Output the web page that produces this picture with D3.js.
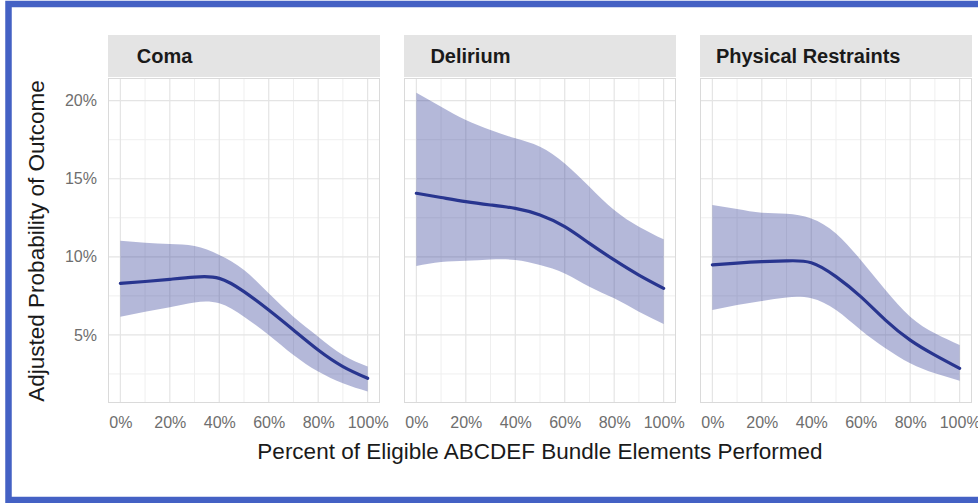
<!DOCTYPE html>
<html>
<head>
<meta charset="utf-8">
<script src="https://cdn.jsdelivr.net/npm/d3@7"></script>
<style>
  html, body { margin: 0; padding: 0; background: #ffffff; }
  svg { display: block; font-family: "Liberation Sans", Arial, Helvetica, sans-serif; }
</style>
</head>
<body>
<svg id="chart" width="978" height="503"></svg>
<script>
// Facet names
const facets = ["Coma", "Delirium", "Physical Restraints"];

// Percent of bundle elements performed (x grid of the fitted curves)
const pctPerformed = [0, 10, 20, 30, 40, 50, 60, 70, 80, 90, 100];

// Adjusted probability (%) — fitted estimate and 95% band, per facet
const comaFit   = [8.30, 8.42, 8.56, 8.70, 8.62, 7.77, 6.59, 5.31, 4.03, 2.97, 2.22];
const comaUpper = [11.03, 10.90, 10.82, 10.69, 10.12, 9.15, 7.66, 6.17, 4.89, 3.71, 2.97];
const comaLower = [6.17, 6.49, 6.77, 7.08, 7.02, 6.17, 4.99, 3.71, 2.65, 1.90, 1.37];

const deliriumFit   = [14.07, 13.80, 13.53, 13.32, 13.10, 12.68, 11.93, 10.86, 9.80, 8.83, 7.98];
const deliriumUpper = [20.51, 19.61, 18.76, 18.12, 17.59, 17.05, 15.98, 14.49, 13.00, 11.93, 11.12];
const deliriumLower = [9.41, 9.67, 9.75, 9.83, 9.80, 9.48, 8.94, 8.09, 7.34, 6.49, 5.70];

const restraintFit   = [9.48, 9.60, 9.69, 9.74, 9.62, 8.73, 7.45, 5.95, 4.67, 3.71, 2.86];
const restraintUpper = [13.32, 13.06, 12.82, 12.76, 12.46, 11.50, 9.80, 7.87, 6.17, 5.10, 4.35];
const restraintLower = [6.59, 6.91, 7.17, 7.40, 7.34, 6.59, 5.31, 4.14, 3.18, 2.54, 2.07];

// Axis ticks
const xTicks = [0, 20, 40, 60, 80, 100];
const xMinor = [10, 30, 50, 70, 90];
const yTicks = [5, 10, 15, 20];
const yMinor = [2.5, 7.5, 12.5, 17.5];

const series = [
  { name: facets[0], fit: comaFit, upper: comaUpper, lower: comaLower },
  { name: facets[1], fit: deliriumFit, upper: deliriumUpper, lower: deliriumLower },
  { name: facets[2], fit: restraintFit, upper: restraintUpper, lower: restraintLower }
];

// Layout
const panelLeft = 108, panelStep = 296, panelW = 272;
const stripTop = 35, stripH = 42;
const panelTop = 78, panelBottom = 403;

const svg = d3.select("#chart");

// Frame around the figure
svg.append("rect")
  .attr("x", 8.5).attr("y", 4)
  .attr("width", 1000).attr("height", 496)
  .attr("fill", "none")
  .attr("stroke", "#4461c4")
  .attr("stroke-width", 6.5);

const y = d3.scaleLinear().domain([0.64, 21.45]).range([panelBottom, panelTop]);
const pctFmt = d => d + "%";
const curve = d3.curveNatural;

series.forEach((s, i) => {
  const x0 = panelLeft + i * panelStep;
  const x = d3.scaleLinear().domain([-5, 105]).range([x0, x0 + panelW]);
  const g = svg.append("g");

  // Panel background
  g.append("rect")
    .attr("x", x0).attr("y", panelTop)
    .attr("width", panelW).attr("height", panelBottom - panelTop)
    .attr("fill", "#ffffff");

  // Minor grid
  g.selectAll(".xminor").data(xMinor).join("line")
    .attr("x1", d => x(d)).attr("x2", d => x(d))
    .attr("y1", panelTop).attr("y2", panelBottom)
    .attr("stroke", "#efefef").attr("stroke-width", 1);
  g.selectAll(".yminor").data(yMinor).join("line")
    .attr("x1", x0).attr("x2", x0 + panelW)
    .attr("y1", d => y(d)).attr("y2", d => y(d))
    .attr("stroke", "#efefef").attr("stroke-width", 1);

  // Major grid
  g.selectAll(".xmajor").data(xTicks).join("line")
    .attr("x1", d => x(d)).attr("x2", d => x(d))
    .attr("y1", panelTop).attr("y2", panelBottom)
    .attr("stroke", "#e4e4e4").attr("stroke-width", 1.2);
  g.selectAll(".ymajor").data(yTicks).join("line")
    .attr("x1", x0).attr("x2", x0 + panelW)
    .attr("y1", d => y(d)).attr("y2", d => y(d))
    .attr("stroke", "#e4e4e4").attr("stroke-width", 1.2);

  const pts = pctPerformed.map((p, k) => ({ p, fit: s.fit[k], hi: s.upper[k], lo: s.lower[k] }));

  // Confidence band
  g.append("path")
    .datum(pts)
    .attr("fill", "#283593")
    .attr("fill-opacity", 0.35)
    .attr("d", d3.area()
      .curve(curve)
      .x(d => x(d.p)).y0(d => y(d.lo)).y1(d => y(d.hi)));

  // Fitted line
  g.append("path")
    .datum(pts)
    .attr("fill", "none")
    .attr("stroke", "#28358f")
    .attr("stroke-width", 3.2)
    .attr("stroke-linecap", "round")
    .attr("d", d3.line()
      .curve(curve)
      .x(d => x(d.p)).y(d => y(d.fit)));

  // Panel border
  g.append("rect")
    .attr("x", x0 + 0.5).attr("y", panelTop + 0.5)
    .attr("width", panelW - 1).attr("height", panelBottom - panelTop - 1)
    .attr("fill", "none").attr("stroke", "#dadada").attr("stroke-width", 1);

  // Strip
  g.append("rect")
    .attr("x", x0).attr("y", stripTop)
    .attr("width", panelW).attr("height", stripH)
    .attr("fill", "#e4e4e4");
  const label = g.append("text")
    .attr("y", 63)
    .attr("font-size", 20)
    .attr("font-weight", "bold")
    .attr("fill", "#1a1a1a")
    .text(s.name);
  const tw = label.node().getComputedTextLength();
  label.attr("x", x0 + 9 + 0.1 * (panelW - 18 - tw));

  // X axis labels
  const xa = g.append("g")
    .attr("transform", `translate(0,${panelBottom})`)
    .call(d3.axisBottom(x).tickValues(xTicks).tickFormat(pctFmt).tickSize(0).tickPadding(0));
  xa.select(".domain").remove();
  xa.selectAll("text")
    .attr("y", 25).attr("dy", null)
    .attr("font-family", "Liberation Sans, Arial, sans-serif")
    .attr("font-size", 16)
    .attr("fill", "#6e6e6e");

  // Y axis labels on the first panel only
  if (i === 0) {
    const ya = g.append("g")
      .attr("transform", `translate(${x0},0)`)
      .call(d3.axisLeft(y).tickValues(yTicks).tickFormat(pctFmt).tickSize(0).tickPadding(11));
    ya.select(".domain").remove();
    ya.selectAll("text")
      .attr("font-family", "Liberation Sans, Arial, sans-serif")
      .attr("font-size", 16)
      .attr("fill", "#6e6e6e");
  }
});

// Axis titles
svg.append("text")
  .attr("x", 540).attr("y", 459)
  .attr("text-anchor", "middle")
  .attr("font-size", 22.5)
  .attr("fill", "#1a1a1a")
  .text("Percent of Eligible ABCDEF Bundle Elements Performed");

svg.append("text")
  .attr("transform", "translate(43.5,241) rotate(-90)")
  .attr("text-anchor", "middle")
  .attr("font-size", 22.5)
  .attr("fill", "#1a1a1a")
  .text("Adjusted Probability of Outcome");
</script>
</body>
</html>
